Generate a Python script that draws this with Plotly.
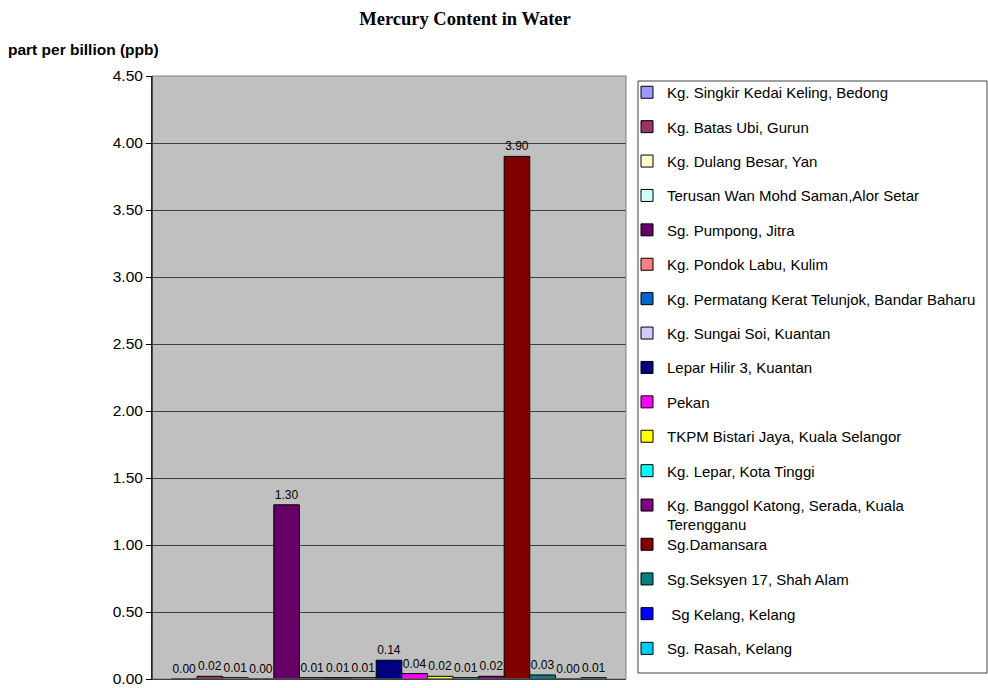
import plotly.graph_objects as go

sites = [
    "Kg. Singkir Kedai Keling, Bedong",
    "Kg. Batas Ubi, Gurun",
    "Kg. Dulang Besar, Yan",
    "Terusan Wan Mohd Saman,Alor Setar",
    "Sg. Pumpong, Jitra",
    "Kg. Pondok Labu, Kulim",
    "Kg. Permatang Kerat Telunjok, Bandar Baharu",
    "Kg. Sungai Soi, Kuantan",
    "Lepar Hilir 3, Kuantan",
    "Pekan",
    "TKPM Bistari Jaya, Kuala Selangor",
    "Kg. Lepar, Kota Tinggi",
    "Kg. Banggol Katong, Serada, Kuala<br>Terengganu",
    "Sg.Damansara",
    "Sg.Seksyen 17, Shah Alam",
    " Sg Kelang, Kelang",
    "Sg. Rasah, Kelang",
]
mercury_ppb = [0.00, 0.02, 0.01, 0.00, 1.30, 0.01, 0.01, 0.01, 0.14, 0.04,
               0.02, 0.01, 0.02, 3.90, 0.03, 0.00, 0.01]
colors = ["#9999FF", "#993366", "#FFFFCC", "#CCFFFF", "#660066", "#FF8080",
          "#0066CC", "#CCCCFF", "#000080", "#FF00FF", "#FFFF00", "#00FFFF",
          "#800080", "#800000", "#008080", "#0000FF", "#00CCFF"]
y_ticks = [0.0, 0.5, 1.0, 1.5, 2.0, 2.5, 3.0, 3.5, 4.0, 4.5]

fig = go.Figure()
for i, (name, val, col) in enumerate(zip(sites, mercury_ppb, colors)):
    fig.add_trace(go.Bar(
        x=["Mercury"], y=[val], name=name,
        marker=dict(color=col, line=dict(color="#000000", width=1)),
        text=[f"{val:.2f}"], textposition="outside",
        textfont=dict(family="Arial, Liberation Sans", size=12, color="#000000"),
        constraintext="none", cliponaxis=False,
        legendgroup=f"g{i}",
        legend="legend" if i < 13 else "legend2",
    ))

# plot area in pixels: x 152..626, y 76..679
PW, PH = 474, 603
legend_common = dict(
    xref="paper", yref="paper",
    x=(627 - 152) / PW, xanchor="left", yanchor="top",
    font=dict(family="Arial, Liberation Sans", size=15, color="#000000"),
    bgcolor="rgba(0,0,0,0)", borderwidth=0,
    valign="top", itemclick=False, itemdoubleclick=False,
)

fig.update_layout(
    width=988, height=688,
    margin=dict(l=152, r=362, t=76, b=9, autoexpand=False),
    paper_bgcolor="#FFFFFF", plot_bgcolor="#C0C0C0",
    barmode="group", bargap=0.082, bargroupgap=0,
    showlegend=True,
    font=dict(family="Arial, Liberation Sans", color="#000000"),
    title=dict(text="<b>Mercury Content in Water</b>",
               font=dict(family="Liberation Serif, Times New Roman", size=18.5, color="#000000"),
               x=465 / 988, xanchor="center", y=1 - 19 / 688, yanchor="middle"),
    legend=dict(legend_common, y=1.0, tracegroupgap=11.9),
    legend2=dict(legend_common, y=(679 - 528) / PH, tracegroupgap=12.2),
    xaxis=dict(showticklabels=False, ticks="", showgrid=False,
               showline=True, linecolor="#000000", linewidth=1, fixedrange=True),
    yaxis=dict(range=[0, 4.5], tickvals=y_ticks, tickformat=".2f",
               ticks="outside", ticklen=5, tickcolor="#000000", tickwidth=1,
               showline=True, linecolor="#000000", linewidth=1,
               showgrid=True, gridcolor="#404040", gridwidth=1,
               zeroline=False,
               tickfont=dict(family="Arial, Liberation Sans", size=15.5, color="#000000")),
    shapes=[
        dict(type="rect", xref="paper", yref="paper", x0=0, x1=1, y0=0, y1=1,
             line=dict(color="#808080", width=1), fillcolor="rgba(0,0,0,0)", layer="above"),
        dict(type="line", xref="paper", yref="paper", x0=0, x1=0, y0=0, y1=1,
             line=dict(color="#000000", width=1), layer="above"),
        dict(type="rect", xref="paper", yref="paper",
             x0=(638 - 152) / PW, x1=(987 - 152) / PW,
             y0=(679 - 673) / PH, y1=(679 - 81) / PH,
             line=dict(color="#404040", width=1), fillcolor="#FFFFFF", layer="below"),
    ],
    annotations=[
        dict(text="<b>part per billion (ppb)</b>", xref="paper", yref="paper",
             x=(6 - 152) / PW, y=(679 - 50) / PH, xanchor="left", yanchor="middle",
             showarrow=False,
             font=dict(family="Arial, Liberation Sans", size=15.5, color="#000000")),
    ],
)

fig.write_html("out.html")
